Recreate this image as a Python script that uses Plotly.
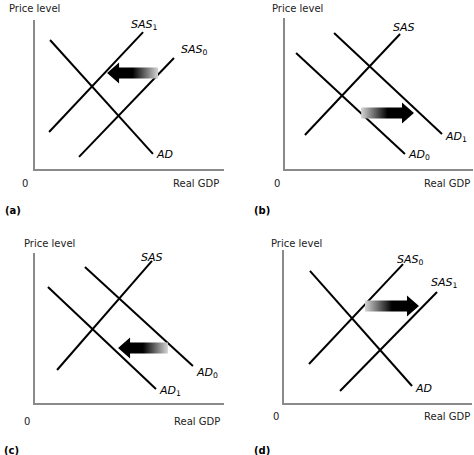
import plotly.graph_objects as go

W, H = 474, 455

# every panel uses a 0-10 scale on both axes
# panel (a): SAS shifts left
a_ad_x = [0.82, 6.25]
a_ad_y = [8.66, 1.01]
a_sas1_x = [0.77, 5.73]
a_sas1_y = [2.48, 9.19]
a_sas0_x = [2.35, 7.36]
a_sas0_y = [0.81, 7.45]
a_arrow_x = [6.52, 3.83]   # tail, tip
a_arrow_y = 6.44

# panel (b): AD shifts right
b_sas_x = [1.06, 6.12]
b_sas_y = [2.25, 8.94]
b_ad0_x = [0.59, 6.38]
b_ad0_y = [7.68, 0.99]
b_ad1_x = [2.61, 8.35]
b_ad1_y = [9.01, 2.32]
b_arrow_x = [4.05, 6.86]
b_arrow_y = 3.71

# panel (c): AD shifts left
c_sas_x = [1.19, 6.20]
c_sas_y = [2.20, 9.47]
c_ad1_x = [0.71, 6.41]
c_ad1_y = [7.73, 0.93]
c_ad0_x = [2.66, 8.36]
c_ad0_y = [9.07, 2.47]
c_arrow_x = [7.04, 4.41]
c_arrow_y = 3.67

# panel (d): SAS shifts right
d_ad_x = [1.38, 6.81]
d_ad_y = [8.63, 1.11]
d_sas0_x = [1.33, 6.33]
d_sas0_y = [2.55, 9.08]
d_sas1_x = [2.98, 8.14]
d_sas1_y = [0.78, 7.25]
d_arrow_x = [4.31, 7.18]
d_arrow_y = 6.34

panel_letters = ["(a)", "(b)", "(c)", "(d)"]
y_title = "Price level"
x_title = "Real GDP"
origin_text = "0"

FONT = "DejaVu Sans"
AXIS_GREY = "#8a8a8a"


def lab(name, sub=None):
    s = "<i>%s</i>" % name
    if sub is not None:
        s += "<sub>%s</sub>" % sub
    return s


# pixel boxes of the panels: x0, x1, y bottom, y top
panels = [
    dict(box=(34.5, 224, 169, 20),
         curves=[(a_ad_x, a_ad_y, lab("AD"), "left", "middle", 1, -1),
                 (a_sas1_x, a_sas1_y, lab("SAS", 1), "center", "middle", 1, 7),
                 (a_sas0_x, a_sas0_y, lab("SAS", 0), "left", "middle", 5, 8)],
         arrow=(a_arrow_x, a_arrow_y),
         ptitle=(7, 8), zero=(25, 183), gdp=(221, 183), letter=(3, 210)),
    dict(box=(285, 473, 169, 18),
         curves=[(b_sas_x, b_sas_y, lab("SAS"), "center", "middle", 4, 7),
                 (b_ad0_x, b_ad0_y, lab("AD", 0), "left", "middle", 1, -1),
                 (b_ad1_x, b_ad1_y, lab("AD", 1), "left", "middle", 1, -3)],
         arrow=(b_arrow_x, b_arrow_y),
         ptitle=(270, 8), zero=(277, 183), gdp=(472, 183), letter=(252, 210)),
    dict(box=(34.5, 224, 403, 253),
         curves=[(c_sas_x, c_sas_y, lab("SAS"), "center", "middle", 0, 3),
                 (c_ad1_x, c_ad1_y, lab("AD", 1), "left", "middle", 1, -2),
                 (c_ad0_x, c_ad0_y, lab("AD", 0), "left", "middle", 1, -7)],
         arrow=(c_arrow_x, c_arrow_y),
         ptitle=(22, 243), zero=(27, 421), gdp=(222, 421), letter=(2, 450)),
    dict(box=(284, 472, 403, 250),
         curves=[(d_ad_x, d_ad_y, lab("AD"), "left", "middle", 1, -2),
                 (d_sas0_x, d_sas0_y, lab("SAS", 0), "center", "middle", 7, 4),
                 (d_sas1_x, d_sas1_y, lab("SAS", 1), "center", "middle", 7, 9)],
         arrow=(d_arrow_x, d_arrow_y),
         ptitle=(269, 243), zero=(276, 416), gdp=(472, 416), letter=(252, 450)),
]


def px(x):
    return x / W


def py(y):
    return 1 - y / H


fig = go.Figure()
annotations = []
layout = {}

for i, p in enumerate(panels):
    n = "" if i == 0 else str(i + 1)
    xa, ya = "x" + n, "y" + n
    x0, x1, yb, yt = p["box"]
    common = dict(range=[0, 10], showgrid=False, zeroline=False,
                  showticklabels=False, ticks="", showline=True,
                  linecolor=AXIS_GREY, linewidth=2, fixedrange=True)
    layout["xaxis" + n] = dict(domain=[px(x0), px(x1)], anchor=ya, **common)
    layout["yaxis" + n] = dict(domain=[py(yb), py(yt)], anchor=xa, **common)

    for cx, cy, text, xanc, yanc, dx, dy in p["curves"]:
        fig.add_trace(go.Scatter(x=cx, y=cy, mode="lines", xaxis=xa, yaxis=ya,
                                 line=dict(color="black", width=2),
                                 hoverinfo="skip", showlegend=False))
        annotations.append(dict(x=cx[-1], y=cy[-1], xref=xa, yref=ya,
                                text=text, showarrow=False, xanchor=xanc,
                                yanchor=yanc, xshift=dx, yshift=dy,
                                font=dict(family=FONT, size=11, color="black")))

    # gradient arrow drawn as a filled polygon
    (tail, tip), ay = p["arrow"]
    sx = 10 / (x1 - x0)      # data units per pixel
    sy = 10 / (yb - yt)
    d = 1 if tip > tail else -1
    head_len = 12 * sx
    shaft = 5.5 * sy
    head = 10.5 * sy
    neck = tip - d * head_len
    poly_x = [tail, neck, neck, tip, neck, neck, tail, tail]
    poly_y = [ay + shaft, ay + shaft, ay + head, ay, ay - head, ay - shaft,
              ay - shaft, ay + shaft]
    if d < 0:
        cs = [[0, "black"], [0.5, "black"], [1, "#d4d4d4"]]
    else:
        cs = [[0, "#d4d4d4"], [0.5, "black"], [1, "black"]]
    fig.add_trace(go.Scatter(x=poly_x, y=poly_y, mode="lines", fill="toself",
                             xaxis=xa, yaxis=ya, line=dict(width=0),
                             fillgradient=dict(type="horizontal", colorscale=cs),
                             hoverinfo="skip", showlegend=False))

    txt = dict(family=FONT, size=10, color="#222222")
    annotations.append(dict(x=px(p["ptitle"][0]), y=py(p["ptitle"][1]),
                            xref="paper", yref="paper", text=y_title,
                            showarrow=False, xanchor="left", yanchor="middle",
                            font=txt))
    annotations.append(dict(x=px(p["zero"][0]), y=py(p["zero"][1]),
                            xref="paper", yref="paper", text=origin_text,
                            showarrow=False, xanchor="center", yanchor="middle",
                            font=txt))
    annotations.append(dict(x=px(p["gdp"][0]), y=py(p["gdp"][1]),
                            xref="paper", yref="paper", text=x_title,
                            showarrow=False, xanchor="right", yanchor="middle",
                            font=txt))
    annotations.append(dict(x=px(p["letter"][0]), y=py(p["letter"][1]),
                            xref="paper", yref="paper",
                            text="<b>%s</b>" % panel_letters[i],
                            showarrow=False, xanchor="left", yanchor="middle",
                            font=dict(family=FONT, size=10, color="black")))

fig.update_layout(width=W, height=H, margin=dict(l=0, r=0, t=0, b=0),
                  paper_bgcolor="white", plot_bgcolor="white",
                  annotations=annotations, **layout)

# the page's default body margin would push the 474x455 figure off screen
fig.write_html("out.html", config={"displayModeBar": False},
               post_script="document.body.style.margin='0';"
                           "document.body.style.overflow='hidden';")
